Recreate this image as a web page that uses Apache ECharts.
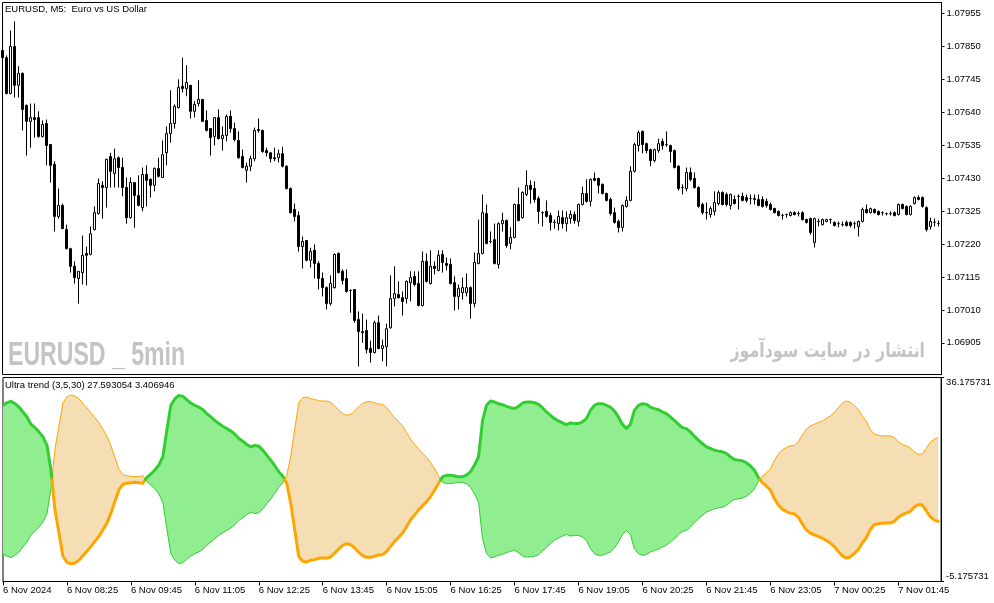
<!DOCTYPE html>
<html><head><meta charset="utf-8">
<script src="https://cdn.jsdelivr.net/npm/echarts@6/dist/echarts.min.js"></script>
<style>html,body{margin:0;padding:0;background:#fff}#c{width:994px;height:603px}</style>
</head><body><div id="c"></div>
<script>
const open = [
1.07837,1.07814,1.07700,1.07850,1.07726,1.07764,1.07662,1.07611,1.07623,1.07623,
1.07563,1.07604,1.07537,1.07474,1.07308,1.07343,1.07266,1.07205,1.07149,1.07110,
1.07129,1.07190,1.07187,1.07266,1.07317,1.07407,1.07400,1.07499,1.07445,1.07495,
1.07464,1.07400,1.07304,1.07416,1.07375,1.07336,1.07442,1.07426,1.07407,1.07461,
1.07432,1.07511,1.07572,1.07604,1.07655,1.07723,1.07716,1.07726,1.07643,1.07668,
1.07681,1.07614,1.07588,1.07563,1.07623,1.07556,1.07566,1.07627,1.07588,1.07550,
1.07499,1.07455,1.07468,1.07492,1.07585,1.07582,1.07518,1.07511,1.07495,1.07495,
1.07508,1.07468,1.07397,1.07330,1.07311,1.07212,1.07231,1.07168,1.07200,1.07158,
1.07110,1.07081,1.07030,1.07081,1.07190,1.07133,1.07110,1.07072,1.07075,1.06979,
1.06937,1.06944,1.06887,1.06874,1.06969,1.06887,1.06893,1.06953,1.07046,1.07059,
1.07049,1.07046,1.07097,1.07117,1.07094,1.07024,1.07165,1.07094,1.07149,1.07136,
1.07187,1.07158,1.07155,1.07097,1.07053,1.07065,1.07065,1.07081,1.07030,1.07158,
1.07190,1.07317,1.07228,1.07234,1.07155,1.07285,1.07295,1.07222,1.07241,1.07346,
1.07304,1.07378,1.07407,1.07397,1.07365,1.07320,1.07324,1.07311,1.07289,1.07285,
1.07304,1.07285,1.07301,1.07314,1.07292,1.07346,1.07381,1.07356,1.07429,1.07429,
1.07410,1.07381,1.07362,1.07320,1.07292,1.07273,1.07340,1.07359,1.07452,1.07534,
1.07579,1.07540,1.07521,1.07486,1.07518,1.07547,1.07537,1.07534,1.07518,1.07468,
1.07400,1.07397,1.07448,1.07429,1.07400,1.07346,1.07320,1.07314,1.07324,1.07349,
1.07384,1.07378,1.07343,1.07362,1.07372,1.07372,1.07368,1.07365,1.07362,1.07362,
1.07362,1.07356,1.07346,1.07333,1.07324,1.07311,1.07314,1.07311,1.07320,1.07317,
1.07320,1.07298,1.07301,1.07225,1.07292,1.07282,1.07292,1.07298,1.07289,1.07285,
1.07282,1.07289,1.07289,1.07285,1.07276,1.07292,1.07330,1.07320,1.07330,1.07324,
1.07320,1.07317,1.07317,1.07320,1.07314,1.07346,1.07340,1.07314,1.07349,1.07368,
1.07368,1.07336,1.07276,1.07289,1.07285];
const close = [
1.07814,1.07700,1.07850,1.07726,1.07764,1.07649,1.07611,1.07623,1.07617,1.07563,
1.07601,1.07534,1.07471,1.07308,1.07343,1.07269,1.07205,1.07149,1.07113,1.07133,
1.07184,1.07184,1.07253,1.07320,1.07413,1.07400,1.07490,1.07452,1.07492,1.07464,
1.07400,1.07304,1.07416,1.07375,1.07343,1.07442,1.07423,1.07407,1.07461,1.07436,
1.07505,1.07572,1.07604,1.07659,1.07719,1.07716,1.07735,1.07643,1.07665,1.07681,
1.07611,1.07582,1.07559,1.07623,1.07556,1.07566,1.07627,1.07588,1.07553,1.07495,
1.07464,1.07468,1.07492,1.07582,1.07582,1.07515,1.07511,1.07492,1.07492,1.07508,
1.07468,1.07397,1.07320,1.07308,1.07212,1.07228,1.07168,1.07196,1.07158,1.07110,
1.07081,1.07030,1.07094,1.07187,1.07129,1.07104,1.07069,1.07072,1.06976,1.06941,
1.06941,1.06884,1.06874,1.06969,1.06887,1.06896,1.06950,1.07046,1.07062,1.07049,
1.07037,1.07101,1.07113,1.07091,1.07024,1.07165,1.07101,1.07149,1.07142,1.07184,
1.07161,1.07152,1.07094,1.07053,1.07078,1.07081,1.07081,1.07030,1.07161,1.07190,
1.07320,1.07222,1.07228,1.07158,1.07285,1.07295,1.07215,1.07241,1.07346,1.07295,
1.07384,1.07407,1.07394,1.07362,1.07324,1.07320,1.07308,1.07289,1.07289,1.07308,
1.07285,1.07304,1.07314,1.07295,1.07346,1.07381,1.07356,1.07426,1.07423,1.07407,
1.07381,1.07359,1.07317,1.07289,1.07273,1.07343,1.07359,1.07452,1.07537,1.07575,
1.07537,1.07518,1.07486,1.07521,1.07540,1.07534,1.07537,1.07515,1.07464,1.07397,
1.07400,1.07448,1.07426,1.07400,1.07340,1.07320,1.07320,1.07333,1.07352,1.07384,
1.07346,1.07346,1.07378,1.07349,1.07372,1.07359,1.07359,1.07365,1.07365,1.07343,
1.07340,1.07343,1.07330,1.07320,1.07311,1.07311,1.07314,1.07320,1.07314,1.07317,
1.07298,1.07289,1.07257,1.07301,1.07292,1.07298,1.07298,1.07298,1.07279,1.07285,
1.07282,1.07279,1.07279,1.07285,1.07292,1.07330,1.07320,1.07333,1.07320,1.07314,
1.07320,1.07317,1.07317,1.07311,1.07346,1.07333,1.07314,1.07340,1.07368,1.07362,
1.07340,1.07266,1.07292,1.07289,1.07285];
const high = [
1.07840,1.07821,1.07901,1.07930,1.07787,1.07767,1.07665,1.07668,1.07668,1.07643,
1.07614,1.07617,1.07537,1.07484,1.07397,1.07349,1.07282,1.07208,1.07165,1.07133,
1.07247,1.07212,1.07276,1.07340,1.07429,1.07420,1.07492,1.07511,1.07524,1.07499,
1.07495,1.07432,1.07432,1.07416,1.07439,1.07464,1.07471,1.07429,1.07464,1.07495,
1.07550,1.07595,1.07710,1.07665,1.07745,1.07814,1.07790,1.07726,1.07675,1.07742,
1.07681,1.07646,1.07588,1.07623,1.07649,1.07595,1.07633,1.07646,1.07607,1.07579,
1.07521,1.07480,1.07502,1.07591,1.07620,1.07585,1.07527,1.07511,1.07527,1.07521,
1.07530,1.07471,1.07400,1.07349,1.07324,1.07244,1.07231,1.07208,1.07219,1.07165,
1.07129,1.07085,1.07120,1.07190,1.07193,1.07139,1.07139,1.07075,1.07075,1.07005,
1.06998,1.06979,1.06912,1.06976,1.06992,1.06915,1.06966,1.07120,1.07149,1.07101,
1.07069,1.07104,1.07133,1.07133,1.07133,1.07196,1.07190,1.07200,1.07165,1.07200,
1.07200,1.07177,1.07174,1.07117,1.07091,1.07113,1.07126,1.07085,1.07193,1.07298,
1.07378,1.07346,1.07260,1.07285,1.07289,1.07320,1.07298,1.07273,1.07349,1.07400,
1.07388,1.07455,1.07423,1.07420,1.07372,1.07324,1.07359,1.07320,1.07298,1.07327,
1.07327,1.07324,1.07327,1.07324,1.07349,1.07403,1.07426,1.07429,1.07448,1.07432,
1.07413,1.07384,1.07368,1.07336,1.07298,1.07346,1.07372,1.07468,1.07543,1.07582,
1.07582,1.07543,1.07524,1.07524,1.07556,1.07556,1.07579,1.07537,1.07521,1.07471,
1.07410,1.07464,1.07464,1.07448,1.07404,1.07352,1.07352,1.07340,1.07388,1.07391,
1.07388,1.07384,1.07381,1.07375,1.07378,1.07384,1.07378,1.07378,1.07378,1.07378,
1.07372,1.07365,1.07352,1.07336,1.07327,1.07317,1.07317,1.07324,1.07324,1.07324,
1.07324,1.07301,1.07304,1.07304,1.07301,1.07301,1.07301,1.07301,1.07292,1.07292,
1.07292,1.07295,1.07292,1.07292,1.07295,1.07336,1.07346,1.07336,1.07333,1.07327,
1.07324,1.07320,1.07324,1.07324,1.07349,1.07349,1.07343,1.07343,1.07372,1.07375,
1.07372,1.07340,1.07304,1.07301,1.07295];
const low = [
1.07811,1.07697,1.07697,1.07687,1.07687,1.07582,1.07502,1.07527,1.07559,1.07559,
1.07559,1.07471,1.07416,1.07260,1.07301,1.07269,1.07203,1.07129,1.07094,1.07030,
1.07091,1.07088,1.07184,1.07263,1.07314,1.07301,1.07336,1.07400,1.07400,1.07400,
1.07372,1.07285,1.07301,1.07272,1.07340,1.07324,1.07340,1.07368,1.07388,1.07432,
1.07432,1.07471,1.07543,1.07588,1.07652,1.07703,1.07691,1.07620,1.07623,1.07659,
1.07611,1.07579,1.07502,1.07534,1.07553,1.07518,1.07547,1.07575,1.07547,1.07492,
1.07461,1.07416,1.07452,1.07484,1.07575,1.07511,1.07499,1.07480,1.07484,1.07480,
1.07464,1.07394,1.07317,1.07292,1.07196,1.07142,1.07165,1.07145,1.07110,1.07075,
1.07053,1.07011,1.07024,1.07078,1.07126,1.07091,1.07065,1.07001,1.06969,1.06830,
1.06905,1.06871,1.06842,1.06871,1.06884,1.06846,1.06830,1.06950,1.07021,1.07046,
1.06992,1.07030,1.07037,1.07085,1.07021,1.07021,1.07097,1.07091,1.07123,1.07133,
1.07129,1.07136,1.07091,1.07008,1.07011,1.07043,1.07053,1.06982,1.07018,1.07155,
1.07187,1.07219,1.07222,1.07155,1.07142,1.07260,1.07208,1.07203,1.07238,1.07292,
1.07301,1.07372,1.07349,1.07352,1.07285,1.07276,1.07304,1.07263,1.07269,1.07263,
1.07269,1.07260,1.07285,1.07285,1.07276,1.07343,1.07352,1.07340,1.07420,1.07381,
1.07378,1.07356,1.07311,1.07285,1.07257,1.07260,1.07336,1.07356,1.07448,1.07515,
1.07509,1.07509,1.07468,1.07480,1.07511,1.07521,1.07530,1.07480,1.07461,1.07391,
1.07378,1.07388,1.07420,1.07397,1.07336,1.07314,1.07298,1.07304,1.07311,1.07343,
1.07343,1.07340,1.07330,1.07346,1.07330,1.07356,1.07352,1.07346,1.07346,1.07340,
1.07336,1.07336,1.07327,1.07317,1.07308,1.07298,1.07304,1.07308,1.07311,1.07308,
1.07295,1.07285,1.07250,1.07209,1.07276,1.07279,1.07289,1.07285,1.07276,1.07273,
1.07276,1.07276,1.07273,1.07269,1.07244,1.07289,1.07317,1.07317,1.07317,1.07311,
1.07311,1.07311,1.07311,1.07308,1.07311,1.07330,1.07311,1.07311,1.07346,1.07359,
1.07336,1.07260,1.07266,1.07276,1.07276];

// Ultra trend indicator: thick line (A) and thin line (B)
const trendA = [
30.53,31.07,31.34,30.87,30.19,29.19,28.18,26.70,26.02,25.15,
24.14,22.46,17.42,9.35,4.64,-0.06,-1.28,-1.61,-1.41,-0.87,
0.07,0.94,1.95,2.96,3.97,5.32,6.66,8.68,11.03,13.38,
14.53,14.73,14.86,14.93,14.86,14.73,15.94,16.61,17.42,18.43,
20.11,25.49,30.53,31.87,32.55,32.35,31.67,31.00,30.53,30.19,
29.66,28.85,28.18,27.50,26.83,26.29,25.82,25.35,24.68,23.81,
23.27,22.60,22.12,22.39,22.26,21.45,20.44,19.43,18.29,17.08,
16.21,14.73,10.69,5.32,-0.06,-1.07,-1.21,-0.87,-0.74,-0.47,
-0.40,-0.40,-0.20,0.61,1.42,2.15,2.49,2.29,1.62,0.74,
0.07,-0.27,-0.27,-0.06,0.20,0.27,0.94,1.95,2.96,3.77,
4.64,5.99,7.33,8.34,9.35,10.16,11.03,12.04,13.38,14.73,
16.07,16.34,16.34,16.21,16.07,16.07,16.41,17.08,18.43,20.11,
27.50,30.53,31.40,31.20,30.87,30.66,30.33,30.06,29.86,30.33,
31.00,31.20,31.20,31.07,30.73,30.06,29.19,28.51,27.84,27.37,
26.97,26.63,26.97,26.83,26.83,27.17,27.84,29.52,30.53,30.87,
30.87,30.53,30.19,29.39,28.18,26.70,25.82,26.70,29.52,30.53,
30.87,30.73,30.19,29.86,29.66,29.19,28.85,28.18,27.50,26.70,
26.02,25.82,25.15,24.28,23.47,22.80,22.12,21.79,21.45,21.25,
21.12,20.78,20.11,19.57,19.43,19.30,18.90,18.29,17.42,15.94,
14.86,14.19,13.38,11.70,10.36,9.49,9.01,8.68,8.54,7.87,
6.52,5.32,4.64,4.30,3.97,3.63,3.16,2.62,1.95,0.94,
0.07,-0.40,-0.20,0.47,1.28,2.62,3.63,5.32,6.32,6.52,
6.66,6.66,6.66,7.00,7.80,8.34,8.68,9.01,9.89,10.36,
10.36,9.21,8.00,7.33,7.00];
const trendB = [
0.47,-0.07,-0.34,0.13,0.81,1.81,2.82,4.30,4.98,5.85,
6.86,8.54,13.58,21.65,26.36,31.06,32.28,32.61,32.41,31.87,
30.93,30.06,29.05,28.04,27.03,25.68,24.34,22.32,19.97,17.62,
16.47,16.27,16.14,16.07,16.14,16.27,15.06,14.39,13.58,12.57,
10.89,5.51,0.47,-0.87,-1.55,-1.35,-0.67,0.00,0.47,0.81,
1.34,2.15,2.82,3.50,4.17,4.71,5.18,5.65,6.32,7.19,
7.73,8.40,8.88,8.61,8.74,9.55,10.56,11.57,12.71,13.92,
14.79,16.27,20.31,25.68,31.06,32.07,32.21,31.87,31.74,31.47,
31.40,31.40,31.20,30.39,29.58,28.85,28.51,28.71,29.38,30.26,
30.93,31.27,31.27,31.06,30.80,30.73,30.06,29.05,28.04,27.23,
26.36,25.01,23.67,22.66,21.65,20.84,19.97,18.96,17.62,16.27,
14.93,14.66,14.66,14.79,14.93,14.93,14.59,13.92,12.57,10.89,
3.50,0.47,-0.40,-0.20,0.13,0.34,0.67,0.94,1.14,0.67,
0.00,-0.20,-0.20,-0.07,0.27,0.94,1.81,2.49,3.16,3.63,
4.03,4.37,4.03,4.17,4.17,3.83,3.16,1.48,0.47,0.13,
0.13,0.47,0.81,1.61,2.82,4.30,5.18,4.30,1.48,0.47,
0.13,0.27,0.81,1.14,1.34,1.81,2.15,2.82,3.50,4.30,
4.98,5.18,5.85,6.72,7.53,8.20,8.88,9.21,9.55,9.75,
9.88,10.22,10.89,11.43,11.57,11.70,12.10,12.71,13.58,15.06,
16.14,16.81,17.62,19.30,20.64,21.51,21.99,22.32,22.46,23.13,
24.48,25.68,26.36,26.70,27.03,27.37,27.84,28.38,29.05,30.06,
30.93,31.40,31.20,30.53,29.72,28.38,27.37,25.68,24.68,24.48,
24.34,24.34,24.34,24.00,23.20,22.66,22.32,21.99,21.11,20.64,
20.64,21.79,23.00,23.67,24.00];

const priceTicks = [1.06905,1.07010,1.07115,1.07220,1.07325,1.07430,1.07535,1.07640,1.07745,1.07850,1.07955];
const timeTickIdx = [0,16,32,48,64,80,96,112,128,144,160,176,192,208,224];
const timeLabels = ['6 Nov 2024','6 Nov 08:25','6 Nov 09:45','6 Nov 11:05','6 Nov 12:25','6 Nov 13:45','6 Nov 15:05','6 Nov 16:25','6 Nov 17:45','6 Nov 19:05','6 Nov 20:25','6 Nov 21:45','6 Nov 23:05','7 Nov 00:25','7 Nov 01:45'];
const indMax = 36.175731, indMin = -5.175731;
const titleText = 'EURUSD, M5:  Euro vs US Dollar';
const indText = 'Ultra trend (3,5,30) 27.593054 3.406946';

const FONT = 'Liberation Sans';
const GREEN = '#32CD32', ORANGE = '#FFA500', GREEN_FILL = '#90EE90', ORANGE_FILL = '#F5DEB3';
const N = open.length;
const candleData = open.map((o, i) => [i, o, close[i], low[i], high[i]]);
const lineA = trendA.map((v, i) => [i, v]);

// Split the indicator into runs where A stays above (or below) B.
// Each run: list of [x, a, b] including the interpolated crossing points.
function buildRuns() {
  const out = [];
  let cur = {up: (trendA[0] - trendB[0]) >= 0, pts: []};
  for (let i = 0; i < N; i++) {
    const d = trendA[i] - trendB[i];
    const u = d >= 0;
    if (i > 0 && u !== cur.up) {
      const dp = trendA[i - 1] - trendB[i - 1];
      const t = dp / (dp - d), xc = i - 1 + t;
      const yc = trendA[i - 1] + (trendA[i] - trendA[i - 1]) * t;
      cur.pts.push([xc, yc, yc]);
      out.push(cur);
      cur = {up: u, pts: [[xc, yc, yc]]};
    }
    cur.pts.push([i, trendA[i], trendB[i]]);
  }
  out.push(cur);
  return out;
}
const runs = buildRuns();

function renderIndicator(params, api) {
  const fills = [], thin = [], thick = [];
  runs.forEach(r => {
    const pa = r.pts.map(p => api.coord([p[0], p[1]]));
    const pb = r.pts.map(p => api.coord([p[0], p[2]]));
    fills.push({type: 'polygon', shape: {points: pa.concat(pb.slice().reverse())},
      style: {fill: r.up ? GREEN_FILL : ORANGE_FILL, stroke: null}});
    thin.push({type: 'polyline', shape: {points: pb},
      style: {stroke: r.up ? GREEN : ORANGE, lineWidth: 1, fill: null, lineJoin: 'round'}});
    thick.push({type: 'polyline', shape: {points: pa},
      style: {stroke: r.up ? GREEN : ORANGE, lineWidth: 3, fill: null, lineJoin: 'round', lineCap: 'round'}});
  });
  return {type: 'group', children: fills.concat(thin, thick)};
}

const chart = echarts.init(document.getElementById('c'), null, {renderer: 'canvas'});
const lbl = {color: '#000', fontFamily: FONT, fontSize: 9.5};
chart.setOption({
  animation: false,
  backgroundColor: '#fff',
  title: [
    {text: titleText, left: 5, top: 4, padding: 0, textStyle: {fontFamily: FONT, fontSize: 9.5, fontWeight: 'normal', color: '#000'}},
    {text: indText, left: 5, top: 380, padding: 0, textStyle: {fontFamily: FONT, fontSize: 9.5, fontWeight: 'normal', color: '#000'}}
  ],
  grid: [
    {left: 2.5, top: 2.5, width: 939, height: 372, show: true, borderColor: '#000', borderWidth: 1, backgroundColor: 'transparent'},
    {left: 2.5, top: 377.5, width: 939, height: 204, show: true, borderColor: '#000', borderWidth: 1, backgroundColor: 'transparent'}
  ],
  xAxis: [
    {type: 'value', gridIndex: 0, min: 0, max: 234.75, show: false},
    {type: 'value', gridIndex: 1, min: 0, max: 234.75,
      axisLine: {show: true, onZero: false, lineStyle: {color: '#000', width: 1}},
      axisTick: {show: true, customValues: timeTickIdx, length: 4, lineStyle: {color: '#000'}},
      axisLabel: Object.assign({customValues: timeTickIdx, align: 'left', margin: 4, showMinLabel: true, showMaxLabel: true,
        formatter: v => { const k = timeTickIdx.indexOf(Math.round(v)); return k >= 0 ? timeLabels[k] : ''; }}, lbl),
      splitLine: {show: false}}
  ],
  yAxis: [
    {type: 'value', gridIndex: 0, position: 'right', min: 1.06804, max: 1.07990,
      axisLine: {show: true, onZero: false, lineStyle: {color: '#000'}},
      axisTick: {show: true, customValues: priceTicks, length: 3, lineStyle: {color: '#000'}},
      axisLabel: Object.assign({customValues: priceTicks, margin: 5, formatter: v => v.toFixed(5)}, lbl),
      splitLine: {show: false}},
    {type: 'value', gridIndex: 1, position: 'right', min: indMin, max: indMax,
      axisLine: {show: true, onZero: false, lineStyle: {color: '#000'}},
      axisTick: {show: true, customValues: [indMax], length: 3, lineStyle: {color: '#000'}},
      axisLabel: Object.assign({customValues: [indMax], margin: 5, verticalAlign: 'top', formatter: v => v.toFixed(6)}, lbl),
      splitLine: {show: false}},
    {type: 'value', gridIndex: 1, position: 'right', min: indMin, max: indMax,
      axisLine: {show: false, onZero: false},
      axisTick: {show: true, customValues: [indMin], length: 3, lineStyle: {color: '#000'}},
      axisLabel: Object.assign({customValues: [indMin], margin: 5, verticalAlign: 'bottom', formatter: v => v.toFixed(6)}, lbl),
      splitLine: {show: false}}
  ],
  graphic: [
    {type: 'text', x: 8, y: 356, scaleX: 0.70, z: 0, silent: true,
      style: {text: 'EURUSD _ 5min', font: 'bold 33px "Liberation Sans"', fill: '#C4C4C4', align: 'left', verticalAlign: 'middle'}},
    {type: 'text', x: 925, y: 352, scaleX: 0.79, z: 0, silent: true,
      style: {text: 'انتشار در سایت سودآموز', font: 'bold 20px "DejaVu Sans"', fill: '#C4C4C4', align: 'right', verticalAlign: 'middle'}}
  ],
  series: [
    {type: 'candlestick', xAxisIndex: 0, yAxisIndex: 0, data: candleData, barWidth: 2, clip: true, silent: true,
      itemStyle: {color: '#fff', color0: '#000', borderColor: '#000', borderColor0: '#000', borderWidth: 1}},
    {type: 'custom', xAxisIndex: 1, yAxisIndex: 1, data: [lineA[0]], encode: {x: 0, y: 1}, renderItem: renderIndicator, clip: true, silent: true, z: 2}
  ]
});
</script></body></html>
